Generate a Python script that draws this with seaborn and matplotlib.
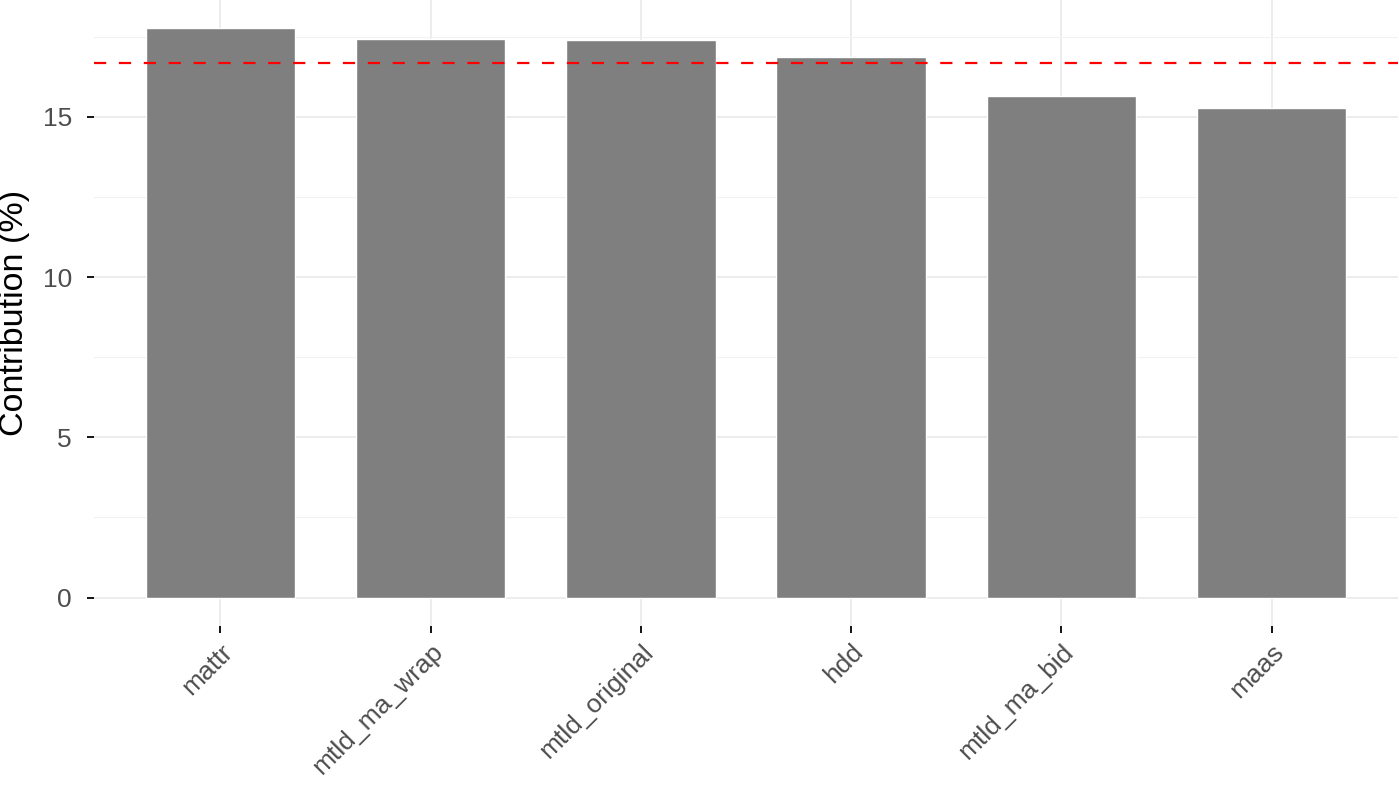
import numpy as np
import pandas as pd
import matplotlib
matplotlib.use("Agg")
import matplotlib.pyplot as plt
import seaborn as sns

# contribution of each diversity metric (%)
metrics = ["mattr", "mtld_ma_wrap", "mtld_original", "hdd", "mtld_ma_bid", "maas"]
contribution = [17.76, 17.44, 17.39, 16.86, 15.64, 15.28]
expected = 100 / len(metrics)  # uniform contribution reference

df = pd.DataFrame({"metric": metrics, "contribution": contribution})

sns.set_theme(style="whitegrid")
plt.rcParams["font.family"] = ["Liberation Sans", "DejaVu Sans"]

fig = plt.figure(figsize=(13.99, 7.89), dpi=100)
ax = fig.add_axes([94 / 1399, 1 - 626 / 789, 1304 / 1399, 626 / 789])

sns.barplot(data=df, x="metric", y="contribution", color="#7F7F7F",
            saturation=1, width=0.71, ax=ax, zorder=2)
ax.axhline(expected, color="#FF0000", linewidth=1.6,
           linestyle=(0, (5.5, 5.7)), zorder=3)

ax.set_xlim(-0.6, len(metrics) - 0.4)
ax.set_ylim(-0.888, max(contribution) * 1.05)
ax.set_yticks([0, 5, 10, 15])
ax.set_yticks([2.5, 7.5, 12.5, 17.5], minor=True)

ax.grid(which="major", color="#EBEBEB", linewidth=1.3, zorder=0)
ax.grid(which="minor", axis="y", color="#F2F2F2", linewidth=0.8, zorder=0)
ax.set_axisbelow(True)
for s in ax.spines.values():
    s.set_visible(False)
ax.set_facecolor("white")

ax.tick_params(axis="both", which="major", direction="out", length=5,
               width=1.3, color="black", labelcolor="#4D4D4D", labelsize=19,
               bottom=True, left=True)
ax.tick_params(axis="y", which="major", pad=11)
ax.tick_params(axis="x", which="major", pad=5)
ax.tick_params(which="minor", length=0)
plt.setp(ax.get_xticklabels(), rotation=45, ha="right", va="top",
         rotation_mode="anchor")

ax.set_xlabel("")
ax.set_ylabel("Contribution (%)", fontsize=24.5, color="black")
ax.yaxis.set_label_coords(-0.049, 0.5)

fig.savefig("out.png", dpi=100)
